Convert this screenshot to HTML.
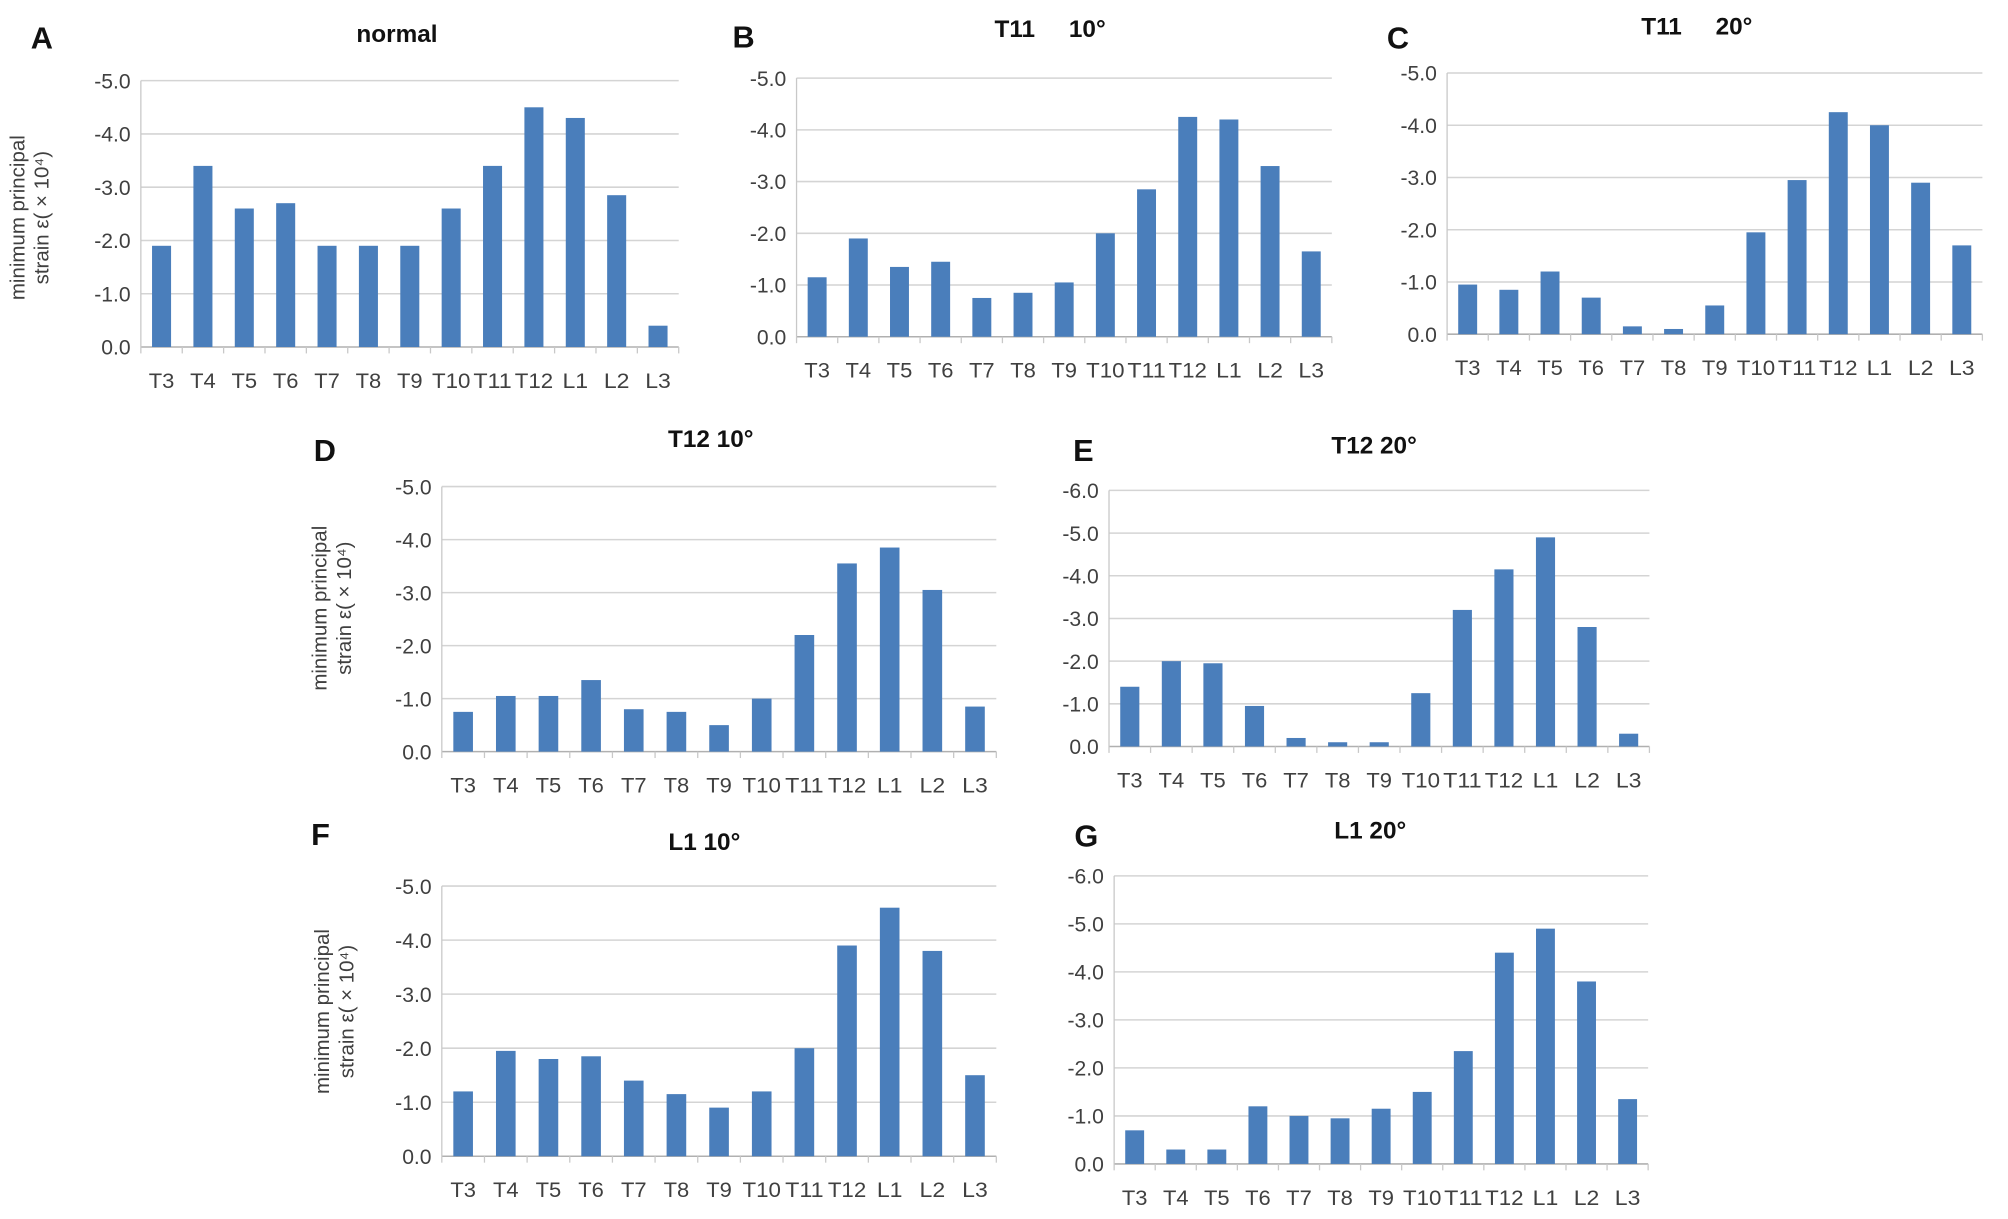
<!DOCTYPE html>
<html><head><meta charset="utf-8">
<style>
html,body{margin:0;padding:0;background:#fff;}
svg{display:block;}
text{font-family:"Liberation Sans",sans-serif;}
</style></head>
<body>
<svg id="fig" width="2008" height="1219" viewBox="0 0 1568 952" preserveAspectRatio="none" xmlns="http://www.w3.org/2000/svg"></svg>
<script>
const categories = ["T3","T4","T5","T6","T7","T8","T9","T10","T11","T12","L1","L2","L3"];
const valuesA = [1.9,3.4,2.6,2.7,1.9,1.9,1.9,2.6,3.4,4.5,4.3,2.85,0.4];
const valuesB = [1.15,1.9,1.35,1.45,0.75,0.85,1.05,2.0,2.85,4.25,4.2,3.3,1.65];
const valuesC = [0.95,0.85,1.2,0.7,0.15,0.1,0.55,1.95,2.95,4.25,4.0,2.9,1.7];
const valuesD = [0.75,1.05,1.05,1.35,0.8,0.75,0.5,1.0,2.2,3.55,3.85,3.05,0.85];
const valuesE = [1.4,2.0,1.95,0.95,0.2,0.1,0.1,1.25,3.2,4.15,4.9,2.8,0.3];
const valuesF = [1.2,1.95,1.8,1.85,1.4,1.15,0.9,1.2,2.0,3.9,4.6,3.8,1.5];
const valuesG = [0.7,0.3,0.3,1.2,1.0,0.95,1.15,1.5,2.35,4.4,4.9,3.8,1.35];
const ticks5 = ["0.0","-1.0","-2.0","-3.0","-4.0","-5.0"];
const ticks6 = ["0.0","-1.0","-2.0","-3.0","-4.0","-5.0","-6.0"];
const titles = ["normal","T11\u00a0\u00a0\u00a0\u00a0\u00a010°","T11\u00a0\u00a0\u00a0\u00a0\u00a020°","T12 10°","T12 20°","L1 10°","L1 20°"];
const letters = ["A","B","C","D","E","F","G"];

const NS="http://www.w3.org/2000/svg";
const svg=document.getElementById('fig');
function mk(tag,attrs,parent){const e=document.createElementNS(NS,tag);for(const k in attrs)e.setAttribute(k,attrs[k]);(parent||svg).appendChild(e);return e;}

const panels=[
 {v:valuesA,t:ticks5,l:110,r:530,top:63,bot:271,tx:310,ty:33,lx:24,ly:38,yl:true,ylx:28,yly:170},
 {v:valuesB,t:ticks5,l:622,r:1040,top:61,bot:263,tx:820,ty:29,lx:572,ly:37},
 {v:valuesC,t:ticks5,l:1130,r:1548,top:57,bot:261,tx:1325,ty:27,lx:1083,ly:38},
 {v:valuesD,t:ticks5,l:345,r:778,top:380,bot:587,tx:555,ty:349,lx:245,ly:360,yl:true,ylx:264,yly:475},
 {v:valuesE,t:ticks6,l:866,r:1288,top:383,bot:583,tx:1073,ty:354,lx:838,ly:360},
 {v:valuesF,t:ticks5,l:345,r:778,top:692,bot:903,tx:550,ty:664,lx:243,ly:660,yl:true,ylx:266,yly:790},
 {v:valuesG,t:ticks6,l:870,r:1287,top:684,bot:909,tx:1070,ty:655,lx:839,ly:661}
];

panels.forEach((p,pi)=>{
  const g=mk('g',{});
  
  
  const n=p.t.length-1;
  const maxV=n;
  const yScale=v=>p.bot-(v/maxV)*(p.bot-p.top);
  const band=(p.r-p.l)/categories.length;
  const xScale=i=>p.l+band*(i+0.5);
  p.t.forEach((lab,i)=>{
    const y=yScale(i);
    const ln=mk('line',{x1:p.l,x2:p.r,y1:y,y2:y,stroke:i==0?'#b0b0b0':'#d4d4d4','stroke-width':1.2},g);
    
    
    const tx=mk('text',{x:p.l-8,y:y+6,'text-anchor':'end','font-size':16.5,fill:'#404040'},g);
    tx.textContent=lab;
    
    
  });
  const ax=mk('line',{x1:p.l,x2:p.l,y1:p.top,y2:p.bot,stroke:'#c8c8c8','stroke-width':1},g);
  
  
  for(let i=0;i<=categories.length;i++){
    const x=p.l+band*i;
    const tk=mk('line',{x1:x,x2:x,y1:p.bot,y2:p.bot+5,stroke:'#c8c8c8','stroke-width':1},g);
    
    
  }
  categories.forEach((c,i)=>{
    const bw=band*0.46;
    const y=yScale(p.v[i]);
    const b=mk('rect',{x:xScale(i)-bw/2,y:y,width:bw,height:p.bot-y,fill:'#4a7ebb'},g);
    
    
    const tx=mk('text',{x:xScale(i),y:p.bot+32,'text-anchor':'middle','font-size':16.5,fill:'#404040',textLength:c.length>2?30:20,lengthAdjust:'spacingAndGlyphs'},g);
    tx.textContent=c;
    
    
  });
  const ti=mk('text',{x:p.tx,y:p.ty,'text-anchor':'middle','font-size':19,'font-weight':'bold',fill:'#111'},g);
  ti.textContent=titles[pi];
  
  
  const le=mk('text',{x:p.lx,y:p.ly,'font-size':24,'font-weight':'bold',fill:'#111'},g);
  le.textContent=letters[pi];
  
  
  if(p.yl){
    const yt=mk('text',{transform:`translate(${p.ylx},${p.yly}) rotate(-90)`,'text-anchor':'middle','font-size':16,fill:'#404040'},g);
    
    
    const t1=mk('tspan',{x:0,dy:-9},yt);t1.textContent='minimum principal';
    const t2=mk('tspan',{x:0,dy:19},yt);t2.textContent='strain  ε( × 10⁴)';
  }
});
</script>
</body></html>
